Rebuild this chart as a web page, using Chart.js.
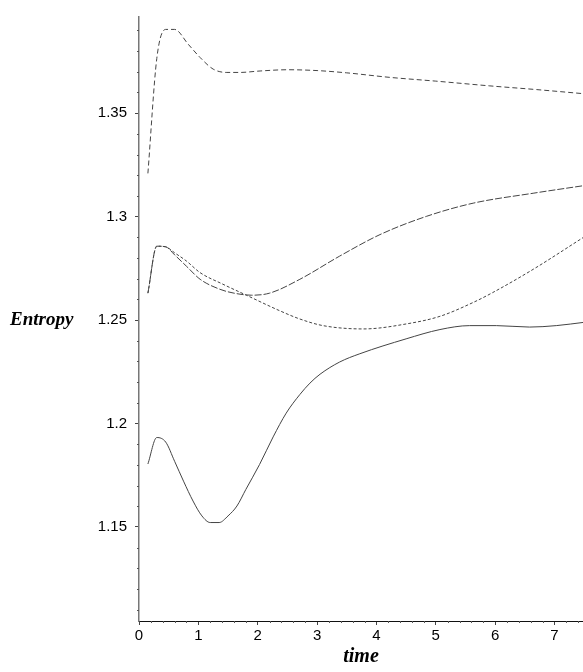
<!DOCTYPE html>
<html>
<head>
<meta charset="utf-8">
<script src="https://cdn.jsdelivr.net/npm/chart.js@4.4.0/dist/chart.umd.min.js"></script>
<style>
    html, body { margin: 0; padding: 0; background: #fff; }
    #wrap { width: 583px; height: 672px; }
</style>
</head>
<body>
<div id="wrap"><canvas id="chart" width="583" height="672"></canvas></div>
<script>
// Entropy vs time, four runs
const xTicks = [0, 1, 2, 3, 4, 5, 6, 7];
const yTicks = [1.15, 1.2, 1.25, 1.3, 1.35];

// top curve (medium dash)
const tTop = [0.15, 0.3, 0.45, 0.6, 0.83, 1.03, 1.25, 1.48, 1.7, 2.04, 2.5, 3.0, 3.5, 4.23, 5.0, 5.91, 6.7, 7.5];
const vTop = [1.3209, 1.3765, 1.3905, 1.3905, 1.3833, 1.3769, 1.3713, 1.3697, 1.3697, 1.3704, 1.3710, 1.3706, 1.3695, 1.3673, 1.3655, 1.3632, 1.3614, 1.3594];

// rising curve (long dash)
const tLong = [0.15, 0.3, 0.45, 0.6, 0.8, 1.03, 1.36, 1.6, 1.9, 2.2, 2.71, 3.38, 4.06, 4.84, 5.63, 6.64, 7.5];
const vLong = [1.2630, 1.2857, 1.2854, 1.2815, 1.2760, 1.2697, 1.2649, 1.2630, 1.2620, 1.2630, 1.2697, 1.2809, 1.2913, 1.3001, 1.3065, 1.3113, 1.3150];

// dip curve (short dash)
const tDot = [0.15, 0.3, 0.45, 0.6, 0.8, 1.03, 1.4, 1.81, 2.37, 2.71, 3.1, 3.78, 4.5, 5.07, 5.63, 5.96, 6.64, 7.5];
const vDot = [1.2630, 1.2857, 1.2854, 1.2825, 1.2785, 1.2729, 1.2675, 1.2620, 1.2545, 1.2505, 1.2473, 1.2457, 1.2481, 1.2518, 1.2585, 1.2633, 1.2745, 1.2902];

// bottom curve (solid)
const tSolid = [0.15, 0.3, 0.45, 0.6, 0.75, 0.91, 1.06, 1.2, 1.35, 1.5, 1.65, 1.8, 2.03, 2.26, 2.48, 2.71, 2.88, 3.05, 3.38, 3.72, 4.5, 5.07, 5.57, 6.02, 6.58, 7.03, 7.5];
const vSolid = [1.1804, 1.1932, 1.1910, 1.1817, 1.1721, 1.1625, 1.1553, 1.1521, 1.1521, 1.1553, 1.1601, 1.1681, 1.1801, 1.1935, 1.2050, 1.2140, 1.2195, 1.2238, 1.2297, 1.2337, 1.2409, 1.2454, 1.2473, 1.2473, 1.2466, 1.2473, 1.2489];

function pairs(ts, vs) {
    return ts.map((t, i) => ({ x: t, y: vs[i] }));
}

const lineColor = '#444';

function series(ts, vs, dash) {
    return {
        data: pairs(ts, vs),
        showLine: true,
        borderColor: lineColor,
        borderWidth: 1,
        borderDash: dash,
        pointRadius: 0,
        cubicInterpolationMode: 'monotone',
        fill: false
    };
}

// minor ticks + horizontal y title
const extras = {
    id: 'extras',
    afterDraw(chart) {
        const ctx = chart.ctx;
        const xs = chart.scales.x;
        const ys = chart.scales.y;
        ctx.save();
        ctx.strokeStyle = '#555';
        ctx.lineWidth = 1;
        ctx.beginPath();
        for (let i = 1; i < 38; i++) {
            if (i % 5 === 0) continue;
            const px = Math.round(xs.getPixelForValue(i * 0.2)) + 0.5;
            ctx.moveTo(px, ys.bottom);
            ctx.lineTo(px, ys.bottom + 2);
        }
        for (let i = 111; i <= 139; i++) {
            if (i % 5 === 0) continue;
            const py = Math.round(ys.getPixelForValue(i / 100)) + 0.5;
            ctx.moveTo(xs.left - 2, py);
            ctx.lineTo(xs.left, py);
        }
        ctx.stroke();

        ctx.fillStyle = '#000';
        ctx.font = 'italic bold 19px "Liberation Serif", "DejaVu Serif", serif';
        ctx.textAlign = 'left';
        ctx.textBaseline = 'middle';
        ctx.fillText('Entropy', 10, ys.getPixelForValue(1.25));
        ctx.restore();
    }
};

new Chart(document.getElementById('chart'), {
    type: 'scatter',
    data: {
        datasets: [
            series(tTop, vTop, [5, 3]),
            series(tLong, vLong, [7, 2]),
            series(tDot, vDot, [3, 2]),
            series(tSolid, vSolid, [])
        ]
    },
    options: {
        responsive: false,
        animation: false,
        layout: { padding: { top: 12, right: 0, left: 0, bottom: 0 } },
        plugins: {
            legend: { display: false },
            tooltip: { enabled: false }
        },
        scales: {
            x: {
                type: 'linear',
                min: 0,
                max: 7.48,
                afterBuildTicks: (s) => { s.ticks = xTicks.map(v => ({ value: v })); },
                afterFit: (s) => { s.height = 51; },
                grid: { drawOnChartArea: false, tickLength: 4, tickColor: '#444' },
                border: { color: '#111', width: 1 },
                ticks: {
                    padding: 2,
                    maxRotation: 0,
                    color: '#000',
                    font: { family: '"Liberation Sans", Arial, sans-serif', size: 15 },
                    callback: (v) => String(v)
                },
                title: {
                    display: true,
                    text: 'time',
                    color: '#000',
                    padding: { top: 0, bottom: 3 },
                    font: { family: '"Liberation Serif", "DejaVu Serif", serif', size: 20, style: 'italic', weight: 'bold' }
                }
            },
            y: {
                type: 'linear',
                min: 1.1045,
                max: 1.3965,
                afterBuildTicks: (s) => { s.ticks = yTicks.map(v => ({ value: v })); },
                afterFit: (s) => { s.width = 139; },
                grid: { drawOnChartArea: false, tickLength: 4, tickColor: '#444' },
                border: { color: '#777', width: 1.5 },
                ticks: {
                    padding: 8,
                    color: '#000',
                    font: { family: '"Liberation Sans", Arial, sans-serif', size: 15 },
                    callback: (v) => String(v)
                }
            }
        }
    },
    plugins: [extras]
});
</script>
</body>
</html>
